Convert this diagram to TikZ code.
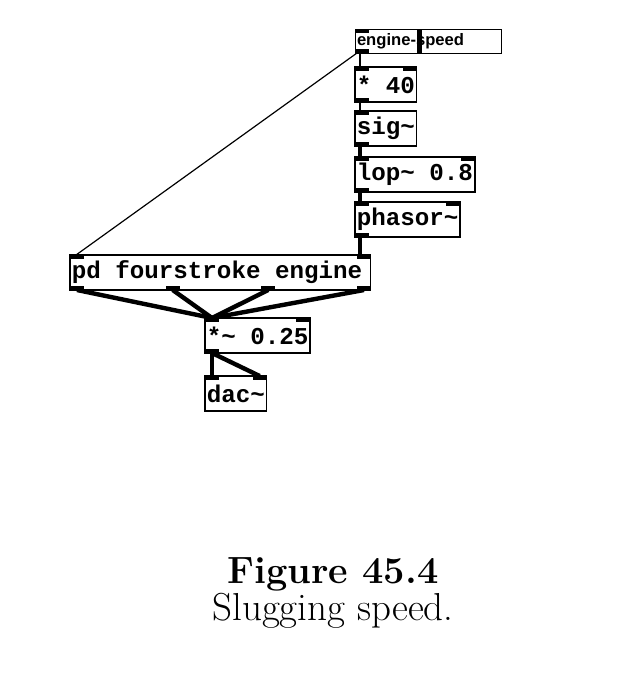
\documentclass[tikz,border=0pt]{standalone}
\usepackage{fontspec}
\usetikzlibrary{positioning,calc}
\newfontfamily\pdfont{Liberation Mono}
\newfontfamily\guifont{Liberation Sans}

\newcommand{\pdgap}{\hspace*{0.6em}}
\newcommand{\inletl}[1]{\fill (#1.north west) rectangle ++(14,4);}
\newcommand{\inletr}[1]{\fill (#1.north east) rectangle ++(-14,4);}
\newcommand{\outletl}[1]{\fill (#1.south west) rectangle ++(14,-4);}

\begin{document}
\begin{tikzpicture}[
  x = 0.5pt,
  y = -0.5pt,
  object/.style={draw, line width=0.8pt, outer sep=0pt, inner xsep=0.9pt,
    inner ysep=0pt, minimum height=17.5pt, anchor=north west,
    font=\pdfont\bfseries\fontsize{12.1}{14}\selectfont},
  slider/.style={draw, line width=0.5pt, outer sep=0pt, inner xsep=1pt,
    inner ysep=0pt, text width=71pt, align=left, minimum height=12pt,
    anchor=north west, font=\guifont\bfseries\fontsize{8.3}{10}\selectfont},
  control/.style={line width=0.6pt},
  signal/.style={line width=2.2pt},
  ]
  \useasboundingbox (0,0) rectangle (620,692);

  \node[slider] (speed) at (355,29) {engine-speed};
  \fill ([shift={(62,0)}]speed.north west) rectangle ([shift={(67,0)}]speed.south west);

  \node[object, below=7pt of speed.south west, anchor=north west] (scale) {*\pdgap 40};
  \node[object, below=4.5pt of scale.south west, anchor=north west] (tosig) {sig\textasciitilde};
  \node[object, below=5.5pt of tosig.south west, anchor=north west] (smooth) {lop\textasciitilde\pdgap 0.8};
  \node[object, below=5pt of smooth.south west, anchor=north west] (phasor) {phasor\textasciitilde};

  \node[object, text width=148.5pt, align=left] (engine) at (70,255) {pd\pdgap fourstroke\pdgap engine};
  \node[object] (gain) at (205,318) {*\textasciitilde\pdgap 0.25};
  \node[object] (dac) at (205,376) {dac\textasciitilde};

  \inletl{speed} \outletl{speed}
  \inletl{scale} \inletr{scale} \outletl{scale}
  \inletl{tosig} \outletl{tosig}
  \inletl{smooth} \inletr{smooth} \outletl{smooth}
  \inletl{phasor} \inletr{phasor} \outletl{phasor}
  \inletl{engine} \inletr{engine}
  \inletl{gain} \inletr{gain} \outletl{gain}
  \inletl{dac} \inletr{dac}

  \draw[control] ([shift={(5,0)}]speed.south west) -- ([shift={(5,0)}]scale.north west);
  \draw[control] ([shift={(2,0)}]speed.south west) -- ([shift={(6,0)}]engine.north west);
  \draw[control] ([shift={(5,0)}]scale.south west) -- ([shift={(5,0)}]tosig.north west);
  \draw[signal] ([shift={(5,0)}]tosig.south west) -- ([shift={(5,0)}]smooth.north west);
  \draw[signal] ([shift={(5,0)}]smooth.south west) -- ([shift={(5,0)}]phasor.north west);
  \draw[signal] ([shift={(5,0)}]phasor.south west) -- ([shift={(5,0)}]phasor.south west |- engine.north);

  \foreach \dx in {0,95.7,191.3,287} {
    \fill ([shift={(\dx,0)}]engine.south west) rectangle ++(14,-4);
    \draw[signal] ([shift={({\dx+7},0)}]engine.south west) -- ([shift={(7,0)}]gain.north west);
  }

  \draw[signal] ([shift={(7,0)}]gain.south west) -- ([shift={(7,0)}]dac.north west);
  \draw[signal] ([shift={(7,0)}]gain.south west) -- ([shift={(-7,0)}]dac.north east);

  \node[anchor=base, font=\bfseries\fontsize{19}{23}\selectfont] (fig-num) at (333,583) {Figure 45.4};
  \node[anchor=base, font=\fontsize{19.5}{23}\selectfont] (fig-text) at (333,620) {Slugging speed.};
\end{tikzpicture}
\end{document}
